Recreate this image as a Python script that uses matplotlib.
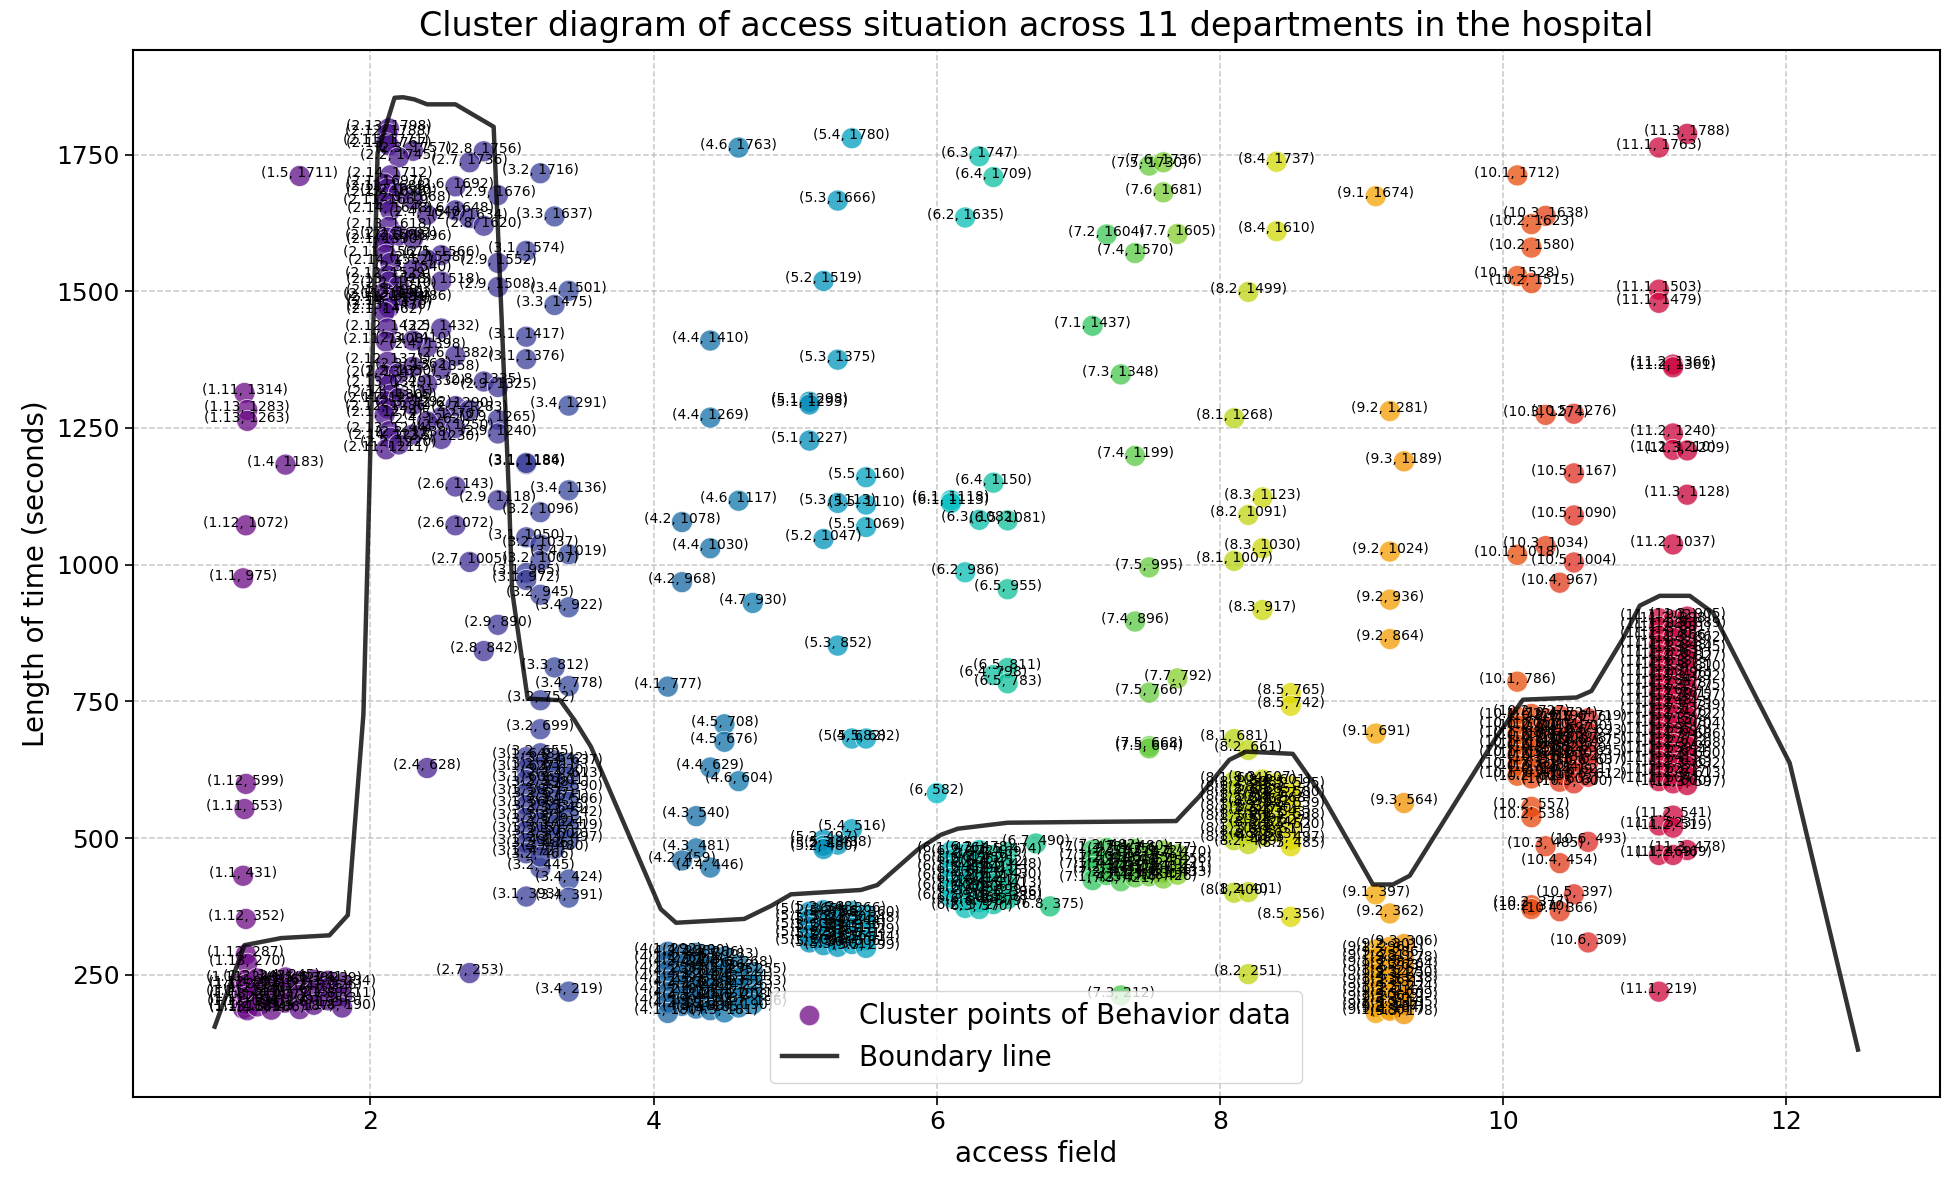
import matplotlib
matplotlib.use("Agg")
import matplotlib.pyplot as plt
import numpy as np
from matplotlib.colors import LinearSegmentedColormap
from matplotlib.lines import Line2D

# ---------------- data (access field, length of time in seconds) ----------------
dept1 = [(1.5, 1711), (1.11, 1314), (1.13, 1283), (1.13, 1263), (1.4, 1183), (1.12, 1072),
         (1.1, 975), (1.12, 599), (1.11, 553), (1.1, 431), (1.12, 352), (1.12, 287), (1.13, 270),
         (1.1, 228), (1.1, 205), (1.1, 188), (1.11, 240), (1.11, 215), (1.12, 196), (1.12, 232),
         (1.13, 210), (1.13, 185), (1.2, 243), (1.2, 220), (1.2, 192), (1.3, 236), (1.3, 207),
         (1.3, 186), (1.4, 245), (1.4, 224), (1.4, 199), (1.5, 238), (1.5, 213), (1.5, 187),
         (1.6, 241), (1.6, 218), (1.6, 195), (1.7, 239), (1.7, 226), (1.7, 203), (1.8, 234),
         (1.8, 211), (1.8, 190)]

dept2 = [(2.13, 1798), (2.12, 1788), (2.11, 1771), (2.13, 1767), (2.3, 1757), (2.2, 1745),
         (2.8, 1756), (2.7, 1736), (2.14, 1712), (2.1, 1697), (2.12, 1688), (2.6, 1692),
         (2.13, 1676), (2.2, 1680), (2.11, 1662), (2.3, 1668), (2.9, 1676), (2.14, 1648),
         (2.6, 1648), (2.7, 1634), (2.4, 1640), (2.13, 1618), (2.8, 1620), (2.12, 1598),
         (2.2, 1602), (2.1, 1590), (2.3, 1596), (2.11, 1567), (2.5, 1566), (2.14, 1552),
         (2.4, 1558), (2.9, 1552), (2.12, 1529), (2.3, 1540), (2.13, 1518), (2.5, 1518),
         (2.2, 1510), (2.9, 1508), (2.1, 1498), (2.11, 1490), (2.12, 1484), (2.14, 1478),
         (2.2, 1492), (2.3, 1486), (2.13, 1470), (2.1, 1462), (2.12, 1432), (2.5, 1432),
         (2.11, 1408), (2.4, 1398), (2.3, 1410), (2.6, 1382), (2.12, 1371), (2.5, 1358),
         (2.3, 1362), (2.1, 1347), (2.2, 1350), (2.8, 1335), (2.13, 1329), (2.9, 1325),
         (2.4, 1330), (2.14, 1311), (2.11, 1299), (2.2, 1305), (2.12, 1286), (2.6, 1290),
         (2.7, 1283), (2.3, 1292), (2.1, 1274), (2.5, 1270), (2.9, 1265), (2.4, 1262),
         (2.13, 1244), (2.9, 1240), (2.6, 1250), (2.14, 1232), (2.5, 1230), (2.3, 1238),
         (2.11, 1211), (2.2, 1220), (2.6, 1143), (2.9, 1118), (2.6, 1072), (2.7, 1005),
         (2.9, 890), (2.8, 842), (2.4, 628), (2.7, 253)]

dept3 = [(3.2, 1716), (3.3, 1637), (3.1, 1574), (3.4, 1501), (3.3, 1475), (3.1, 1417),
         (3.1, 1376), (3.4, 1291), (3.1, 1184), (3.1, 1186), (3.4, 1136), (3.2, 1096),
         (3.1, 1050), (3.2, 1037), (3.4, 1019), (3.2, 1007), (3.1, 985), (3.1, 972),
         (3.2, 945), (3.4, 922), (3.3, 812), (3.4, 778), (3.2, 752), (3.2, 699), (3.2, 445),
         (3.4, 424), (3.1, 393), (3.4, 391), (3.4, 219),
         (3.1, 648), (3.2, 655), (3.3, 642), (3.4, 637), (3.1, 627), (3.2, 631), (3.3, 620),
         (3.4, 613), (3.1, 606), (3.2, 598), (3.3, 601), (3.4, 590), (3.1, 583), (3.2, 577),
         (3.3, 571), (3.4, 566), (3.1, 560), (3.2, 553), (3.3, 549), (3.4, 542), (3.1, 537),
         (3.2, 529), (3.3, 524), (3.4, 519), (3.1, 513), (3.2, 507), (3.3, 502), (3.4, 497),
         (3.1, 491), (3.2, 486), (3.3, 480), (3.1, 472), (3.2, 466)]

dept4 = [(4.6, 1763), (4.4, 1410), (4.4, 1269), (4.6, 1117), (4.2, 1078), (4.4, 1030),
         (4.2, 968), (4.7, 930), (4.1, 777), (4.5, 708), (4.5, 676), (4.4, 629), (4.6, 604),
         (4.3, 540), (4.3, 481), (4.2, 459), (4.4, 446),
         (4.1, 292), (4.2, 288), (4.3, 290), (4.4, 286), (4.5, 283), (4.1, 276), (4.2, 270),
         (4.3, 274), (4.4, 266), (4.5, 262), (4.6, 268), (4.1, 258), (4.2, 251), (4.3, 247),
         (4.4, 243), (4.5, 255), (4.6, 244), (4.7, 255), (4.1, 239), (4.2, 232), (4.3, 228),
         (4.4, 224), (4.5, 233), (4.6, 226), (4.7, 233), (4.1, 218), (4.2, 212), (4.3, 207),
         (4.4, 203), (4.5, 210), (4.6, 208), (4.7, 212), (4.1, 199), (4.2, 193), (4.3, 188),
         (4.4, 185), (4.5, 181), (4.6, 190), (4.1, 180), (4.7, 196)]

dept5 = [(5.4, 1780), (5.3, 1666), (5.2, 1519), (5.3, 1375), (5.1, 1298), (5.1, 1293),
         (5.1, 1227), (5.5, 1160), (5.3, 1113), (5.5, 1110), (5.5, 1069), (5.2, 1047),
         (5.3, 852), (5.4, 682), (5.5, 682), (5.4, 516), (5.2, 497), (5.2, 486), (5.3, 488),
         (5.2, 480),
         (5.1, 365), (5.2, 368), (5.3, 362), (5.4, 366), (5.5, 360), (5.1, 352), (5.2, 347),
         (5.3, 350), (5.4, 344), (5.5, 348), (5.1, 338), (5.2, 334), (5.3, 331), (5.4, 336),
         (5.5, 329), (5.1, 323), (5.2, 319), (5.3, 316), (5.4, 321), (5.5, 314), (5.1, 309),
         (5.2, 304), (5.3, 301), (5.4, 306), (5.5, 299)]

dept6 = [(6.3, 1747), (6.4, 1709), (6.2, 1635), (6.4, 1150), (6.1, 1118), (6.1, 1113),
         (6.3, 1082), (6.5, 1081), (6.2, 986), (6.5, 955), (6.5, 811), (6.4, 798), (6.5, 783),
         (6, 582), (6.7, 490), (6.8, 375),
         (6.1, 476), (6.2, 472), (6.3, 478), (6.4, 469), (6.5, 474), (6.1, 461), (6.2, 456),
         (6.3, 459), (6.4, 452), (6.5, 448), (6.1, 444), (6.2, 439), (6.3, 441), (6.4, 435),
         (6.5, 430), (6.1, 427), (6.2, 421), (6.3, 424), (6.4, 417), (6.5, 413), (6.1, 409),
         (6.2, 403), (6.3, 406), (6.4, 399), (6.5, 396), (6.1, 391), (6.2, 386), (6.3, 383),
         (6.4, 379), (6.5, 388), (6.2, 372), (6.3, 370)]

dept7 = [(7.5, 1730), (7.6, 1736), (7.6, 1681), (7.2, 1604), (7.7, 1605), (7.4, 1570),
         (7.1, 1437), (7.3, 1348), (7.4, 1199), (7.5, 995), (7.4, 896), (7.7, 792), (7.5, 766),
         (7.5, 668), (7.5, 664), (7.3, 212),
         (7.1, 478), (7.2, 482), (7.3, 475), (7.4, 480), (7.5, 472), (7.6, 477), (7.7, 470),
         (7.1, 463), (7.2, 458), (7.3, 461), (7.4, 455), (7.5, 459), (7.6, 452), (7.7, 456),
         (7.1, 447), (7.2, 442), (7.3, 445), (7.4, 439), (7.5, 443), (7.6, 436), (7.7, 441),
         (7.1, 423), (7.2, 432), (7.3, 421), (7.4, 428), (7.5, 430), (7.6, 426), (7.7, 433)]

dept8 = [(8.4, 1737), (8.4, 1610), (8.2, 1499), (8.1, 1268), (8.3, 1123), (8.2, 1091),
         (8.3, 1030), (8.1, 1007), (8.3, 917), (8.5, 765), (8.5, 742), (8.1, 681), (8.2, 661),
         (8.1, 400), (8.2, 401), (8.5, 356), (8.2, 251),
         (8.1, 604), (8.2, 598), (8.3, 607), (8.4, 601), (8.5, 595), (8.1, 588), (8.2, 582),
         (8.3, 585), (8.4, 577), (8.5, 580), (8.1, 571), (8.2, 566), (8.3, 562), (8.4, 568),
         (8.5, 559), (8.1, 553), (8.2, 547), (8.3, 550), (8.4, 543), (8.5, 538), (8.1, 535),
         (8.2, 529), (8.3, 524), (8.4, 527), (8.5, 520), (8.1, 514), (8.2, 508), (8.3, 503),
         (8.4, 511), (8.5, 497), (8.1, 496), (8.2, 489), (8.5, 485)]

dept9 = [(9.1, 1674), (9.2, 1281), (9.3, 1189), (9.2, 1024), (9.2, 936), (9.2, 864),
         (9.1, 691), (9.3, 564), (9.1, 397), (9.2, 362),
         (9.1, 296), (9.2, 301), (9.3, 306), (9.1, 281), (9.2, 286), (9.3, 278), (9.1, 268),
         (9.2, 263), (9.3, 264), (9.1, 252), (9.2, 247), (9.3, 250), (9.1, 236), (9.2, 231),
         (9.3, 238), (9.1, 221), (9.2, 216), (9.3, 224), (9.1, 206), (9.2, 202), (9.3, 209),
         (9.1, 191), (9.2, 187), (9.3, 195), (9.1, 180), (9.2, 184), (9.3, 178)]

dept10 = [(10.1, 1712), (10.3, 1638), (10.2, 1623), (10.2, 1580), (10.1, 1528), (10.2, 1515),
          (10.3, 1274), (10.5, 1276), (10.5, 1167), (10.5, 1090), (10.3, 1034), (10.1, 1018),
          (10.5, 1004), (10.4, 967), (10.1, 786), (10.2, 557), (10.2, 538), (10.3, 485),
          (10.6, 493), (10.4, 454), (10.5, 397), (10.2, 377), (10.2, 370), (10.4, 366),
          (10.6, 309),
          (10.1, 722), (10.2, 727), (10.3, 719), (10.4, 724), (10.5, 716), (10.6, 719),
          (10.1, 706), (10.2, 701), (10.3, 704), (10.4, 697), (10.5, 700), (10.6, 693),
          (10.1, 689), (10.2, 684), (10.3, 680), (10.4, 686), (10.5, 678), (10.6, 675),
          (10.1, 671), (10.2, 666), (10.3, 662), (10.4, 668), (10.5, 659), (10.6, 655),
          (10.1, 652), (10.2, 648), (10.3, 643), (10.4, 650), (10.5, 640), (10.6, 637),
          (10.1, 633), (10.2, 628), (10.3, 624), (10.4, 619), (10.5, 621), (10.1, 614),
          (10.2, 609), (10.4, 603), (10.5, 600), (10.6, 612)]

dept11 = [(11.3, 1788), (11.1, 1763), (11.1, 1503), (11.1, 1479), (11.2, 1366), (11.2, 1361),
          (11.2, 1240), (11.2, 1210), (11.3, 1209), (11.3, 1128), (11.2, 1037), (11.2, 541),
          (11.1, 523), (11.2, 519), (11.3, 478), (11.1, 469), (11.2, 469), (11.1, 219),
          (11.1, 902), (11.2, 898), (11.3, 905), (11.1, 886), (11.2, 881), (11.3, 889),
          (11.1, 870), (11.2, 866), (11.3, 862), (11.1, 853), (11.2, 848), (11.3, 845),
          (11.1, 836), (11.2, 831), (11.3, 827), (11.1, 818), (11.2, 813), (11.3, 810),
          (11.1, 801), (11.2, 796), (11.3, 792), (11.1, 784), (11.2, 778), (11.3, 775),
          (11.1, 766), (11.2, 761), (11.3, 757), (11.1, 748), (11.2, 743), (11.3, 739),
          (11.1, 731), (11.2, 726), (11.3, 722), (11.1, 713), (11.2, 708), (11.3, 704),
          (11.1, 695), (11.2, 690), (11.3, 686), (11.1, 677), (11.2, 672), (11.3, 668),
          (11.1, 659), (11.2, 654), (11.3, 650), (11.1, 641), (11.2, 636), (11.3, 632),
          (11.1, 622), (11.2, 617), (11.3, 613), (11.1, 604), (11.2, 600), (11.3, 597)]

boundary_x = [0.90, 1.11, 1.37, 1.71, 1.84, 1.95, 1.99, 2.05, 2.17, 2.23, 2.31, 2.40, 2.60,
              2.745, 2.87, 2.98, 3.0, 3.11, 3.34, 3.44, 3.557, 4.05, 4.158, 4.64, 4.83, 4.97,
              5.465, 5.58, 5.866, 6.03, 6.148, 6.50, 7.69, 7.854, 8.066, 8.184, 8.514, 8.726,
              9.08, 9.222, 9.34, 9.953, 10.14, 10.518, 10.624, 10.847, 10.965, 11.106, 11.318,
              11.482, 12.024, 12.506]
boundary_y = [155, 304, 317, 322, 359, 726, 1115, 1753, 1854, 1855, 1851, 1842, 1842,
              1820, 1801, 1115, 953, 755, 752, 716, 667, 370, 345, 352, 376, 397,
              405, 414, 479, 506, 517, 528, 531, 576, 643, 658, 654, 576,
              415, 415, 431, 685, 753, 757, 769, 865, 925, 943, 943,
              912, 637, 113]

departments = [dept1, dept2, dept3, dept4, dept5, dept6, dept7, dept8, dept9, dept10, dept11]

# ---------------- style ----------------
anchor_x = [1.0, 2.0, 3.0, 3.5, 4.0, 5.0, 6.0, 7.0, 8.0, 8.5, 9.0, 10.0, 11.0, 11.3]
anchor_c = ["#6e0a84", "#4c128a", "#3c3a98", "#344c9e", "#1e609e", "#0087b6", "#00bcca",
            "#1cc366", "#afd316", "#dbd800", "#f5af00", "#eb5600", "#d40c40", "#c8003a"]
lo, hi = anchor_x[0], anchor_x[-1]
cmap = LinearSegmentedColormap.from_list(
    "dept", [((a - lo) / (hi - lo), c) for a, c in zip(anchor_x, anchor_c)])

fig = plt.figure(figsize=(19.44, 11.84), dpi=100)
ax = fig.add_axes([0.0682, 0.0733, 0.9298, 0.8848])

xs = np.array([p[0] for d in departments for p in d], dtype=float)
ys = np.array([p[1] for d in departments for p in d], dtype=float)

sc = ax.scatter(xs, ys, c=xs, cmap=cmap, vmin=lo, vmax=hi, s=230, alpha=0.75,
                edgecolors="white", linewidths=0.6, zorder=2)
ax.plot(boundary_x, boundary_y, color="black", lw=3.2, alpha=0.8, zorder=3)

for x, y in zip(xs, ys):
    ax.annotate(f"({x:g}, {int(y)})", (x, y), xytext=(0, 2), textcoords="offset points",
                ha="center", va="center", fontsize=10, color="black", zorder=4)

ax.grid(True, linestyle="--", color="#b0b0b0", alpha=0.7, lw=1.1)
ax.set_axisbelow(True)
ax.set_xticks([2, 4, 6, 8, 10, 12])
ax.set_yticks([250, 500, 750, 1000, 1250, 1500, 1750])
ax.tick_params(labelsize=18, width=1.2, length=6)
for s in ax.spines.values():
    s.set_linewidth(1.5)

ax.set_title("Cluster diagram of access situation across 11 departments in the hospital",
             fontsize=24, pad=10)
ax.set_xlabel("access field", fontsize=20)
ax.set_ylabel("Length of time (seconds)", fontsize=20)

handles = [Line2D([], [], marker="o", ls="", markersize=15, markerfacecolor=cmap(0.0),
                  markeredgecolor="white", alpha=0.75),
           Line2D([], [], color="black", lw=3.2, alpha=0.8)]
ax.legend(handles, ["Cluster points of Behavior data", "Boundary line"], loc="lower center",
          fontsize=20, framealpha=0.8)

fig.savefig("out.png", dpi=100)
